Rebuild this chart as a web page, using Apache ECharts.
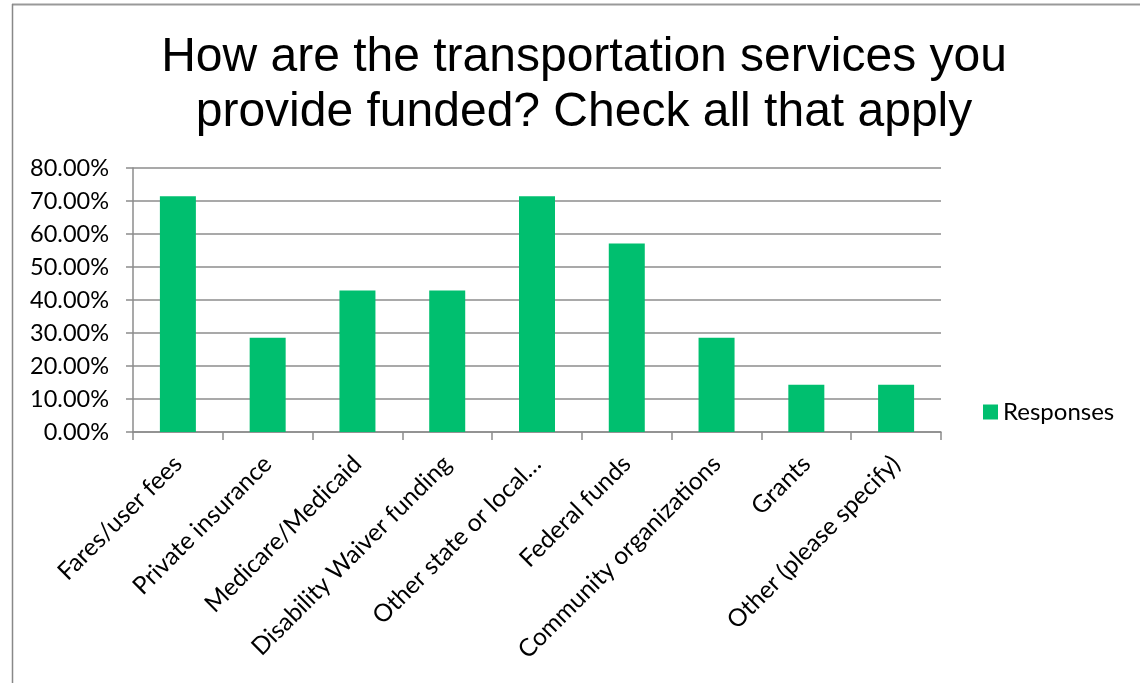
<!DOCTYPE html>
<html>
<head>
<meta charset="utf-8">
<script src="https://cdn.jsdelivr.net/npm/echarts@6/dist/echarts.min.js"></script>
<style>html,body{margin:0;padding:0;background:#fff;}#c{width:1140px;height:683px;}</style>
</head>
<body>
<div id="c"></div>
<script>
var categories = ["Fares/user fees", "Private insurance", "Medicare/Medicaid", "Disability Waiver funding", "Other state or local…", "Federal funds", "Community organizations", "Grants", "Other (please specify)"];
var responses = [0.7143, 0.2857, 0.4286, 0.4286, 0.7143, 0.5714, 0.2857, 0.1429, 0.1429];
var titleLines = ["How are the transportation services you", "provide funded? Check all that apply"];
var seriesName = "Responses";

var chart = echarts.init(document.getElementById('c'));
var grey = '#8c8c8c';
chart.setOption({
  animation: false,
  title: {
    text: titleLines.join('\n'),
    left: 579,
    textAlign: 'center',
    top: 25,
    textStyle: { fontFamily: 'Liberation Sans', fontSize: 48, fontWeight: 'normal', color: '#000', lineHeight: 55 }
  },
  legend: {
    data: [seriesName],
    left: 983, top: 400,
    padding: 0,
    itemWidth: 15, itemHeight: 15,
    icon: 'rect',
    textStyle: { fontFamily: 'Lato', fontSize: 24, color: '#000' }
  },
  grid: { left: 133, right: 199, top: 168, bottom: 251, containLabel: false },
  xAxis: {
    type: 'category',
    data: categories,
    axisLine: { show: true, lineStyle: { color: grey, width: 1.5 } },
    axisTick: { show: true, length: 8, alignWithLabel: false, lineStyle: { color: grey, width: 1.5 } },
    axisLabel: { rotate: 45, interval: 0, margin: 28, fontFamily: 'Lato', fontSize: 24.5, color: '#000' }
  },
  yAxis: {
    type: 'value',
    min: 0, max: 0.8, interval: 0.1,
    axisLine: { show: true, lineStyle: { color: grey, width: 1.5 } },
    axisTick: { show: true, length: 7, lineStyle: { color: grey, width: 1.5 } },
    splitLine: { show: true, lineStyle: { color: grey, width: 1.5 } },
    axisLabel: { margin: 24, fontFamily: 'Lato', fontSize: 23.5, color: '#000',
      formatter: function (v) { return (v * 100).toFixed(2) + '%'; } }
  },
  series: [{
    name: seriesName,
    type: 'bar',
    data: responses,
    barWidth: 36,
    itemStyle: { color: '#00BF6F' }
  }],
  graphic: [
    { type: 'line', shape: { x1: 12, y1: 4.5, x2: 1140, y2: 4.5 }, style: { stroke: '#999', lineWidth: 2 } },
    { type: 'line', shape: { x1: 12.5, y1: 4, x2: 12.5, y2: 683 }, style: { stroke: '#888', lineWidth: 1.5 } }
  ]
});
</script>
</body>
</html>
